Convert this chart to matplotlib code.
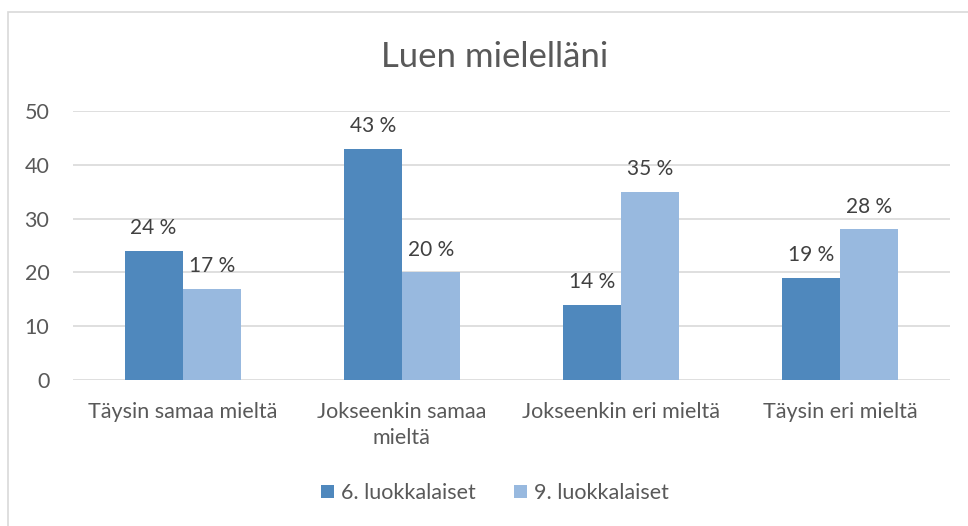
import matplotlib
matplotlib.use("Agg")
import matplotlib.pyplot as plt
from matplotlib.patches import Rectangle
import numpy as np

categories = ["Täysin samaa mieltä", "Jokseenkin samaa\nmieltä", "Jokseenkin eri mieltä", "Täysin eri mieltä"]
series_names = ["6. luokkalaiset", "9. luokkalaiset"]
grade6 = [24, 43, 14, 19]
grade9 = [17, 20, 35, 28]
yticks = [0, 10, 20, 30, 40, 50]
title = "Luen mielelläni"

colors = ["#4F88BD", "#98B9DF"]
txt = "#595959"
font = "Lato"

fig = plt.figure(figsize=(9.68, 5.26), dpi=100)
fig.patches.append(Rectangle((8/968, -0.1), 1.2, (526-12)/526 + 0.1, transform=fig.transFigure,
                             fill=False, edgecolor="#D9D9D9", linewidth=1.2))
ax = fig.add_axes([73/968, 146/526, 877/968, 269/526])

x = np.arange(len(categories))
w = 0.265
b1 = ax.bar(x - w/2, grade6, w, color=colors[0], label=series_names[0], zorder=3)
b2 = ax.bar(x + w/2, grade9, w, color=colors[1], label=series_names[1], zorder=3)

for bars in (b1, b2):
    for r in bars:
        ax.annotate(f"{int(r.get_height())} %", (r.get_x() + r.get_width()/2, r.get_height()),
                    xytext=(0, 9), textcoords="offset points", ha="center", va="bottom",
                    fontsize=15, color="#404040", family=font)

ax.set_xlim(-0.5, len(categories) - 0.5)
ax.set_ylim(0, 50)
ax.set_yticks(yticks)
ax.set_yticklabels([str(t) for t in yticks], fontsize=15.5, color=txt, family=font)
ax.set_xticks(x)
ax.set_xticklabels(categories, fontsize=15.5, color=txt, family=font, linespacing=1.35)
ax.tick_params(axis="y", length=0, pad=17)
ax.tick_params(axis="x", length=0, pad=16)
ax.grid(axis="y", color="#D9D9D9", linewidth=1.2, zorder=0)
for s in ax.spines.values():
    s.set_visible(False)

fig.text(495/968, 1 - 57/526, title, ha="center", va="center", fontsize=25, color=txt, family=font)

leg = fig.legend(loc="center", bbox_to_anchor=(495/968, 1 - 493/526), ncol=2, frameon=False,
                 prop={"family": font, "size": 15.5}, handlelength=0.6, handleheight=0.6,
                 handletextpad=0.3, columnspacing=1.8, labelcolor=txt)

fig.savefig("out.png", dpi=100)
